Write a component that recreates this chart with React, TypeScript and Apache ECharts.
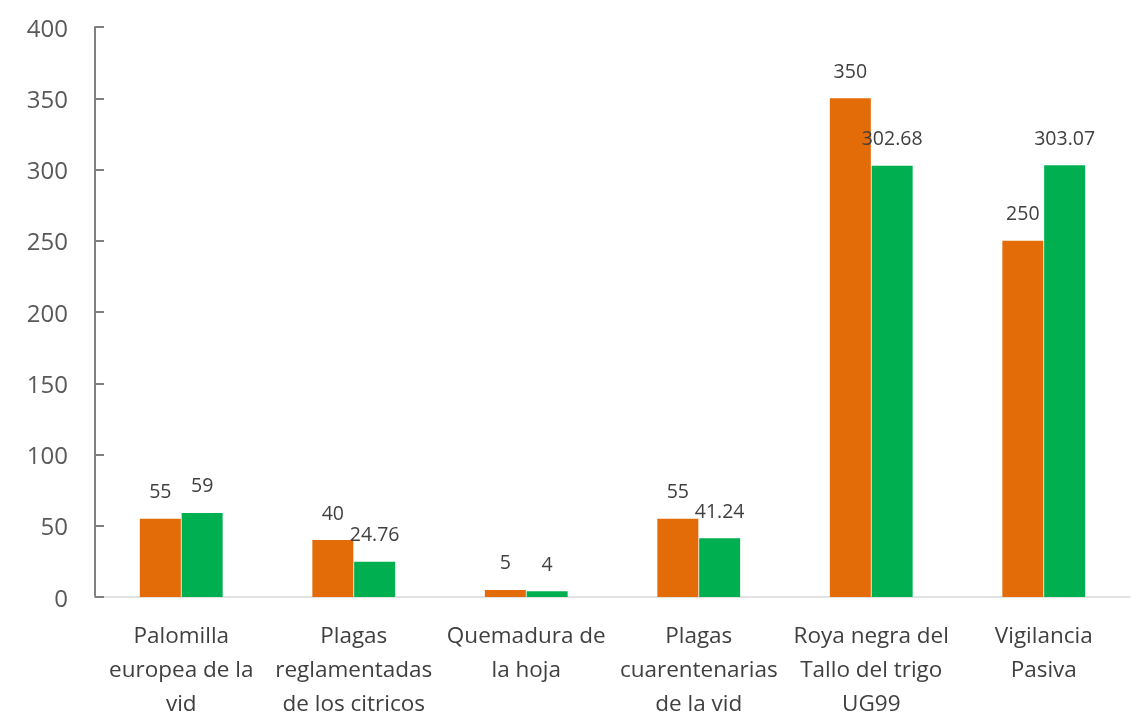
import React, { useEffect, useRef } from "react";
import * as echarts from "echarts";

const categories = [
  "Palomilla\neuropea de la\nvid",
  "Plagas\nreglamentadas\nde los citricos",
  "Quemadura de\nla hoja",
  "Plagas\ncuarentenarias\nde la vid",
  "Roya negra del\nTallo del trigo\nUG99",
  "Vigilancia\nPasiva",
];
const seriesOrange = [55, 40, 5, 55, 350, 250];
const seriesGreen = [59, 24.76, 4, 41.24, 302.68, 303.07];
const yTicks = { min: 0, max: 400, interval: 50 };

export default function App() {
  const ref = useRef<HTMLDivElement>(null);
  useEffect(() => {
    if (!ref.current) return;
    const chart = echarts.init(ref.current, undefined, { renderer: "svg" });
    const labelStyle = {
      show: true,
      position: "top" as const,
      distance: 18,
      fontSize: 19.5,
      color: "#404040",
      fontFamily: "Open Sans, DejaVu Sans, sans-serif",
    };
    chart.setOption({
      animation: false,
      grid: { left: 95, right: 16, top: 27, bottom: 116, containLabel: false },
      xAxis: {
        type: "category",
        data: categories,
        axisLine: { show: true, lineStyle: { color: "#D9D9D9", width: 1.5 } },
        axisTick: { show: false },
        axisLabel: {
          interval: 0,
          fontSize: 22.5,
          lineHeight: 34,
          color: "#404040",
          margin: 20,
          fontFamily: "Open Sans, DejaVu Sans, sans-serif",
        },
      },
      yAxis: {
        type: "value",
        min: yTicks.min,
        max: yTicks.max,
        interval: yTicks.interval,
        axisLine: { show: true, lineStyle: { color: "#808080", width: 2 } },
        axisTick: { show: true, inside: true, length: 9, lineStyle: { color: "#808080", width: 2 } },
        splitLine: { show: false },
        axisLabel: {
          fontSize: 24,
          color: "#595959",
          margin: 27,
          fontFamily: "Open Sans, DejaVu Sans, sans-serif",
        },
      },
      series: [
        {
          type: "bar",
          data: seriesOrange,
          barWidth: 41,
          barGap: "2%",
          itemStyle: { color: "#E36C09" },
          label: labelStyle,
        },
        {
          type: "bar",
          data: seriesGreen,
          barWidth: 41,
          itemStyle: { color: "#00B050" },
          label: labelStyle,
        },
      ],
    });
    return () => chart.dispose();
  }, []);
  return (
    <div
      ref={ref}
      style={{ position: "fixed", left: 0, top: 0, width: 1146, height: 719 }}
    />
  );
}
